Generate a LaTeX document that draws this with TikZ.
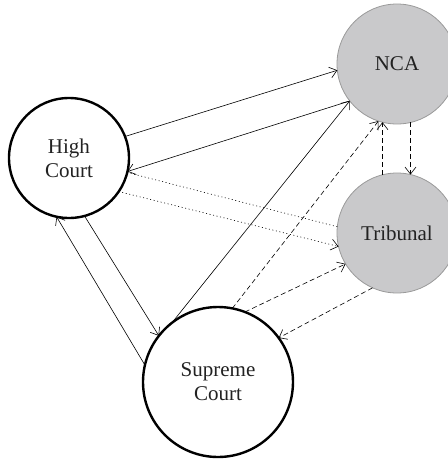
\documentclass[tikz,border=0pt]{standalone}
\usepackage{fontspec}
\setmainfont{Liberation Serif}
\usetikzlibrary{arrows.meta}
\definecolor{gfill}{HTML}{C9C9CB}
\definecolor{gline}{HTML}{9A9A9A}
\definecolor{txt}{HTML}{222222}
\tikzset{
  court/.style={circle, draw=black, line width=2.4pt, fill=white, outer sep=0pt, align=center, text=txt, font=\fontsize{21}{24}\selectfont},
  agency/.style={circle, draw=gline, line width=0.8pt, fill=gfill, outer sep=0pt, align=center, text=txt, font=\fontsize{21}{24}\selectfont},
  link/.style={line width=0.6pt, -{Straight Barb[length=7pt,width=11pt]}},
  plain/.style={line width=0.6pt},
  dsh/.style={dash pattern=on 5pt off 3pt},
  dtt/.style={dash pattern=on 1pt off 2.6pt}
}
\begin{document}
\begin{tikzpicture}[x=1pt,y=-1pt]
\useasboundingbox (0,0) rectangle (448,459);
\clip (0,0) rectangle (448,459);
\node[court, minimum size=120pt] (hc) at (69,158) {High\\Court};
\node[agency, minimum size=120pt] (nca) at (397,64) {NCA};
\node[agency, minimum size=120pt] (tri) at (397,233) {Tribunal};
\node[court, minimum size=150pt] (sc) at (218,382) {Supreme\\Court};
% solid
\draw[link] (hc.21) -- (nca.186);
\draw[link] (nca.218) -- (hc.-13);
\draw[link] (hc.-75) -- (sc.142);
\draw[link] (sc.167) -- (hc.-102);
\draw[link] (sc.128) -- (nca.218);
% dotted
\draw[plain,dtt] (tri.174) -- (hc.-14);
\draw[link,dtt] (hc.-34) -- (tri.193);
% dashed
\draw[link,dsh] (sc.79) -- (nca.252);
\draw[link,dsh] (sc.69) -- (tri.211);
\draw[link,dsh] (tri.246) -- (sc.36);
\draw[link,dsh] (tri.104) -- (nca.256);
\draw[link,dsh] (nca.283) -- (tri.77);
\end{tikzpicture}
\end{document}
